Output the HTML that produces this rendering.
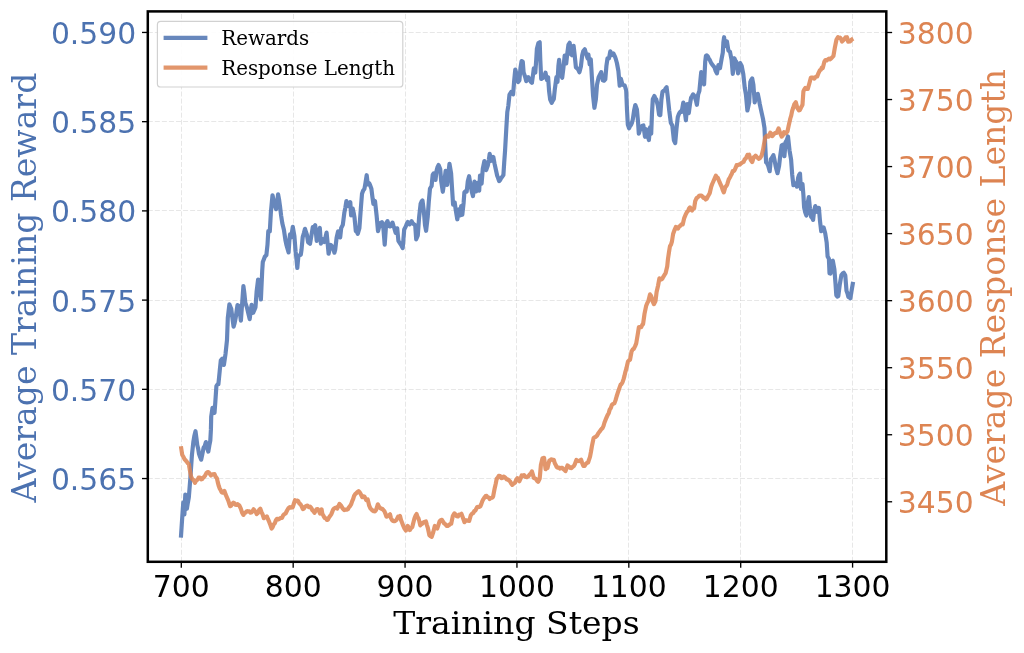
<!DOCTYPE html>
<html lang="en"><head><meta charset="utf-8"><title>Training Reward and Response Length</title>
<style>
html,body{margin:0;padding:0;background:#fff;}
body{width:1024px;height:653px;overflow:hidden;}
svg{display:block;}
.sans{font-family:"DejaVu Sans","Liberation Sans",sans-serif;}
.serif{font-family:"DejaVu Serif","Liberation Serif",serif;}
</style></head><body>
<svg width="1024" height="653" viewBox="0 0 1024 653">
<rect x="0" y="0" width="1024" height="653" fill="#ffffff"/>

<g stroke="#b0b0b0" stroke-opacity="0.3" stroke-width="1" stroke-dasharray="5 2.05" fill="none">
<line x1="181.5" y1="561.8" x2="181.5" y2="11.4"/>
<line x1="293.5" y1="561.8" x2="293.5" y2="11.4"/>
<line x1="405.5" y1="561.8" x2="405.5" y2="11.4"/>
<line x1="516.5" y1="561.8" x2="516.5" y2="11.4"/>
<line x1="628.5" y1="561.8" x2="628.5" y2="11.4"/>
<line x1="740.5" y1="561.8" x2="740.5" y2="11.4"/>
<line x1="852.5" y1="561.8" x2="852.5" y2="11.4"/>
<line x1="147.8" y1="32.5" x2="886.3" y2="32.5"/>
<line x1="147.8" y1="121.5" x2="886.3" y2="121.5"/>
<line x1="147.8" y1="210.5" x2="886.3" y2="210.5"/>
<line x1="147.8" y1="300.5" x2="886.3" y2="300.5"/>
<line x1="147.8" y1="389.5" x2="886.3" y2="389.5"/>
<line x1="147.8" y1="478.5" x2="886.3" y2="478.5"/>
</g>
<clipPath id="ax"><rect x="147.8" y="11.4" width="738.5" height="550.4"/></clipPath>
<g clip-path="url(#ax)" fill="none" stroke-width="4.17" stroke-linejoin="round" stroke-linecap="butt">
<path d="M180.9,537.7 L182.5,513.3 L183.3,502.3 L184.4,514.3 L185.3,494.5 L186.9,508.8 L187.8,503.0 L188.8,497.6 L190.3,479.0 L191.9,455.3 L193.4,441.6 L194.4,435.7 L195.5,431.2 L196.4,438.1 L197.3,445.2 L198.2,448.8 L199.0,453.8 L200.1,457.0 L201.2,459.7 L202.4,453.8 L203.6,447.7 L204.8,445.9 L205.9,442.1 L207.1,447.6 L208.3,451.6 L209.3,445.6 L210.3,440.6 L210.9,429.9 L211.2,416.8 L212.5,407.8 L213.5,410.5 L214.5,412.8 L215.3,402.4 L216.4,386.1 L217.4,384.5 L218.4,384.3 L219.7,371.1 L220.8,360.4 L222.3,358.7 L223.9,364.9 L225.5,354.0 L227.0,340.0 L227.8,318.0 L229.4,304.3 L230.3,306.8 L231.2,308.6 L232.4,317.9 L233.6,326.7 L234.6,323.1 L235.6,318.2 L236.6,311.1 L237.5,305.1 L239.0,305.8 L239.9,313.1 L240.9,320.6 L242.2,302.7 L243.4,286.1 L244.4,293.5 L245.3,302.6 L246.9,307.3 L248.3,313.2 L249.7,319.1 L250.6,311.5 L251.6,304.9 L253.1,312.8 L254.3,310.1 L255.5,307.2 L256.6,291.8 L258.1,279.6 L259.4,286.9 L260.9,299.5 L262.2,271.0 L262.8,262.0 L263.8,259.4 L264.8,256.7 L266.4,255.0 L267.5,244.6 L268.3,231.2 L269.8,231.3 L270.9,212.2 L272.5,195.3 L274.1,202.9 L275.1,205.6 L276.1,209.2 L277.1,202.4 L278.1,194.3 L279.1,199.9 L280.0,206.2 L281.1,215.5 L282.3,223.2 L283.9,229.7 L285.5,240.6 L286.5,245.2 L287.5,248.6 L288.6,252.4 L289.4,239.9 L290.0,234.4 L291.2,237.4 L292.8,226.8 L294.4,236.2 L295.6,251.4 L296.5,259.3 L297.3,268.0 L298.4,255.5 L299.6,255.2 L300.8,254.8 L301.5,249.9 L302.7,237.2 L303.9,233.1 L305.0,228.8 L305.9,231.8 L306.9,234.6 L308.1,242.3 L309.1,243.0 L310.0,243.8 L311.6,234.5 L312.8,227.1 L314.0,226.9 L315.2,225.2 L316.7,240.8 L318.3,231.4 L319.8,228.0 L320.9,243.7 L321.9,240.7 L323.0,239.2 L324.5,242.0 L325.6,236.7 L326.6,232.6 L328.1,248.2 L328.6,253.7 L329.7,248.7 L330.8,245.0 L332.0,246.2 L333.1,248.2 L334.4,252.7 L335.2,249.7 L336.6,237.7 L338.1,231.3 L339.1,233.8 L340.2,237.4 L341.2,228.0 L342.8,224.9 L344.4,212.3 L345.4,207.3 L346.4,201.1 L347.6,203.5 L348.8,206.2 L350.3,202.1 L351.1,215.4 L352.7,208.5 L353.6,212.5 L354.5,217.4 L355.8,231.1 L356.8,231.6 L357.8,233.8 L359.4,228.1 L360.9,207.6 L362.0,193.8 L363.2,190.5 L364.4,189.0 L365.5,182.8 L366.7,175.2 L367.8,184.5 L369.4,183.5 L370.4,186.1 L371.4,188.8 L372.4,196.9 L373.4,203.9 L375.0,201.0 L376.6,215.5 L378.0,231.1 L379.0,227.5 L380.0,223.0 L380.9,222.9 L381.9,222.1 L383.4,228.3 L384.7,244.6 L386.2,223.2 L387.5,221.1 L388.4,223.6 L389.4,226.3 L390.6,226.3 L391.6,224.3 L392.5,222.6 L393.4,225.7 L394.4,228.4 L395.6,232.8 L397.2,228.3 L398.4,240.9 L400.0,243.3 L401.4,245.5 L402.7,248.2 L404.2,229.5 L405.8,226.4 L406.8,223.7 L407.8,222.0 L408.8,223.8 L409.7,224.4 L410.6,222.6 L411.6,221.2 L412.6,223.2 L413.6,224.0 L415.2,225.1 L416.2,239.3 L417.8,235.4 L419.1,217.3 L420.6,203.9 L421.6,201.5 L422.5,200.5 L423.8,210.8 L425.0,225.2 L426.1,230.8 L427.7,217.1 L428.8,201.5 L430.0,188.5 L431.6,186.0 L432.7,174.8 L433.5,173.5 L434.4,173.2 L435.5,179.9 L436.6,170.5 L437.6,166.9 L438.6,165.0 L440.2,169.0 L441.2,181.3 L442.8,191.8 L444.4,181.3 L445.6,170.9 L447.2,184.9 L448.3,173.7 L449.5,163.8 L451.1,173.4 L452.2,190.8 L453.1,204.7 L454.7,202.5 L455.8,210.4 L457.3,219.3 L458.9,209.3 L460.0,215.5 L461.2,206.1 L462.3,214.8 L463.6,203.0 L464.4,192.2 L465.5,191.2 L466.7,191.6 L467.8,181.2 L469.1,176.2 L470.6,185.9 L471.8,191.7 L473.0,196.1 L474.5,181.5 L476.1,191.4 L477.7,182.8 L479.2,190.6 L480.0,175.5 L481.6,183.6 L482.8,168.6 L484.4,161.0 L485.3,166.3 L486.2,170.1 L487.8,165.6 L488.8,160.1 L489.7,153.9 L491.2,160.8 L492.3,159.0 L493.3,157.0 L494.5,163.4 L495.6,168.5 L497.2,175.8 L498.1,178.1 L499.1,181.1 L500.1,180.2 L501.1,178.1 L502.2,176.7 L503.4,175.1 L504.2,162.7 L505.0,151.6 L506.2,130.4 L507.3,112.0 L508.3,106.0 L509.5,94.5 L511.1,92.0 L512.1,93.3 L513.1,94.4 L514.2,80.5 L515.3,69.5 L516.9,75.8 L518.1,82.1 L519.4,80.2 L520.5,67.8 L521.6,61.0 L522.8,61.8 L523.6,72.3 L525.2,77.0 L526.2,81.1 L527.3,78.4 L528.3,77.1 L529.8,80.1 L530.8,81.8 L531.9,82.9 L533.0,75.0 L533.8,68.4 L535.3,72.6 L536.1,61.7 L536.9,48.8 L538.4,43.0 L539.7,42.3 L540.3,59.8 L541.2,79.0 L542.2,78.2 L543.1,78.0 L544.3,76.1 L545.5,72.7 L547.0,80.1 L548.1,77.2 L549.1,91.3 L550.2,99.7 L551.7,102.8 L552.7,100.7 L553.8,99.1 L554.8,89.4 L556.4,77.2 L557.5,81.9 L558.4,66.0 L559.1,59.9 L560.3,72.6 L561.2,75.3 L562.2,77.8 L563.4,68.1 L564.7,55.5 L566.2,63.4 L567.3,53.5 L568.4,44.9 L569.7,42.7 L570.9,54.2 L572.0,55.2 L573.6,45.8 L574.7,55.3 L575.9,67.2 L577.5,68.8 L578.5,70.1 L579.4,72.3 L580.9,66.5 L582.2,55.3 L583.3,51.1 L584.8,49.3 L586.1,53.8 L587.7,58.5 L588.4,54.5 L589.7,64.5 L590.8,59.4 L591.9,77.3 L593.1,96.1 L594.4,107.8 L595.9,99.2 L597.0,84.8 L598.6,77.4 L599.9,74.6 L601.2,72.1 L602.8,80.3 L604.0,80.7 L605.3,79.4 L606.4,66.0 L607.5,58.4 L609.0,58.3 L610.3,51.3 L611.9,55.1 L613.4,53.5 L615.0,56.7 L616.0,59.7 L616.9,63.0 L618.4,71.0 L619.7,85.7 L620.9,78.8 L622.5,84.8 L623.6,85.1 L624.7,85.5 L626.2,90.4 L627.0,110.0 L627.8,124.5 L629.1,128.3 L630.0,126.2 L630.9,125.2 L631.8,123.2 L632.8,119.5 L634.1,110.5 L635.3,105.0 L636.9,109.5 L638.0,121.4 L638.8,133.7 L640.3,129.0 L641.9,126.0 L643.4,125.5 L645.0,136.8 L646.2,129.2 L647.3,133.9 L648.9,140.1 L650.0,127.4 L651.2,133.7 L652.0,113.2 L652.8,99.2 L654.4,96.0 L655.3,98.2 L656.2,99.3 L657.8,105.4 L659.1,114.8 L660.3,115.2 L661.4,99.6 L662.5,91.7 L663.5,90.8 L664.5,90.7 L665.5,88.6 L666.6,87.2 L667.7,96.1 L669.2,110.3 L670.8,122.7 L672.3,125.5 L673.9,140.3 L675.2,143.0 L676.6,127.4 L677.8,116.9 L678.8,114.3 L679.7,112.6 L680.7,111.4 L681.7,111.8 L683.3,102.5 L684.8,111.9 L685.9,120.3 L687.2,104.0 L688.8,113.1 L690.0,103.9 L691.1,97.6 L692.1,96.1 L693.1,94.4 L694.0,95.4 L695.0,97.7 L696.0,100.8 L696.9,104.8 L698.1,94.7 L699.4,90.9 L700.5,79.1 L701.2,72.1 L702.8,73.8 L704.1,84.4 L705.2,61.8 L705.9,55.9 L706.8,55.4 L707.8,56.5 L708.8,58.6 L709.8,60.0 L711.0,62.8 L712.2,64.4 L713.4,66.0 L714.5,67.4 L715.7,71.0 L716.9,73.4 L718.4,65.0 L720.0,68.1 L721.6,58.9 L722.8,52.7 L723.4,42.2 L724.1,37.2 L725.0,46.2 L726.0,43.9 L726.9,41.4 L728.4,50.5 L730.0,51.9 L731.6,59.8 L732.8,73.9 L734.4,58.2 L735.3,60.6 L736.2,61.6 L737.2,67.7 L738.1,73.4 L739.2,68.5 L740.2,63.1 L741.7,66.0 L743.3,74.2 L744.8,88.2 L745.9,94.4 L747.4,110.5 L748.3,106.6 L749.2,102.0 L750.3,82.0 L751.2,79.9 L752.2,78.5 L753.4,84.9 L754.7,102.3 L755.7,97.8 L756.6,94.5 L757.8,93.9 L758.8,98.7 L759.7,103.7 L760.9,109.4 L762.0,114.4 L763.0,118.9 L764.5,128.2 L765.3,147.0 L766.1,162.3 L767.1,163.4 L768.1,165.5 L769.7,171.2 L770.8,159.3 L772.1,157.6 L773.4,155.2 L774.5,159.8 L775.5,165.5 L776.5,169.7 L777.5,173.2 L779.1,165.7 L780.2,156.1 L781.7,145.3 L783.3,144.5 L784.4,156.2 L785.6,142.0 L786.8,140.1 L788.0,136.5 L789.5,150.3 L791.1,159.6 L792.2,174.7 L793.4,185.2 L794.6,184.6 L795.8,183.1 L796.9,186.7 L798.1,178.0 L799.0,175.2 L800.0,173.6 L800.9,188.8 L802.5,184.0 L803.4,194.8 L804.1,207.2 L805.2,212.3 L806.4,215.6 L807.5,204.2 L808.8,197.0 L810.0,209.0 L811.1,216.7 L812.1,217.7 L813.1,219.9 L814.2,210.3 L815.3,206.1 L816.3,208.3 L817.3,211.9 L818.9,208.0 L820.0,221.1 L821.2,231.2 L822.4,229.2 L823.6,227.4 L825.2,233.2 L826.7,242.8 L827.6,256.4 L828.9,258.8 L829.5,273.2 L830.5,273.6 L831.2,261.8 L832.8,260.7 L834.4,269.4 L835.5,283.5 L836.3,295.2 L837.3,296.6 L838.3,296.1 L839.8,284.3 L841.4,275.0 L842.6,273.6 L843.8,272.8 L845.3,275.6 L846.5,290.8 L847.5,293.4 L848.4,297.1 L849.4,297.2 L850.4,298.3 L851.6,290.6 L853.1,281.8" stroke="#4c72b0" stroke-opacity="0.85"/>
<path d="M180.9,446.3 L182.2,454.8 L183.3,456.7 L184.5,459.2 L185.6,460.3 L186.7,461.6 L187.7,463.1 L188.8,464.0 L189.9,470.5 L191.1,476.8 L192.4,479.3 L193.7,480.2 L195.0,482.9 L196.2,480.4 L197.4,479.9 L198.6,477.6 L199.9,477.5 L201.2,479.4 L202.2,479.0 L203.2,477.6 L204.2,476.7 L205.2,475.4 L206.5,472.9 L207.8,472.0 L208.8,472.4 L209.9,473.9 L210.9,475.5 L212.1,474.3 L213.3,474.5 L214.5,474.1 L215.7,476.8 L216.9,478.3 L217.8,482.4 L218.8,486.1 L219.7,488.5 L220.7,490.2 L221.6,492.2 L222.5,492.7 L223.5,492.2 L224.4,491.0 L225.7,494.7 L227.0,497.7 L228.1,500.2 L229.1,503.2 L230.2,506.2 L231.2,505.6 L232.3,503.6 L233.3,502.7 L234.3,503.1 L235.4,504.8 L236.4,505.0 L237.4,504.2 L238.5,504.8 L239.5,505.8 L240.8,508.7 L242.1,512.7 L243.4,514.9 L244.5,512.9 L245.5,512.6 L246.6,511.3 L247.9,511.2 L249.2,511.4 L250.5,512.6 L251.5,512.5 L252.6,511.0 L253.6,509.3 L254.6,510.6 L255.7,511.9 L256.7,514.0 L257.9,512.9 L259.1,510.0 L260.3,508.8 L261.4,511.8 L262.6,514.4 L263.8,518.2 L264.8,517.0 L265.8,517.4 L266.9,516.4 L268.1,519.4 L269.2,521.9 L270.4,525.0 L271.6,528.6 L272.7,527.0 L273.8,524.2 L274.8,523.3 L275.9,520.3 L277.0,518.8 L278.3,519.3 L279.6,518.6 L280.9,517.9 L282.1,517.8 L283.2,515.2 L284.4,514.1 L285.6,513.5 L286.7,511.3 L287.7,509.4 L288.8,507.8 L289.7,507.1 L290.7,507.7 L291.7,506.9 L292.7,507.3 L293.9,503.5 L295.0,500.2 L296.0,501.2 L297.1,500.6 L298.1,500.9 L299.3,503.5 L300.5,504.3 L301.6,506.2 L302.8,509.0 L304.0,508.5 L305.1,506.7 L306.3,505.8 L307.5,505.7 L308.8,507.2 L310.1,506.7 L311.4,508.2 L312.4,510.2 L313.5,511.3 L314.5,512.7 L315.6,510.7 L316.6,509.3 L317.7,509.0 L318.9,510.6 L320.0,513.5 L321.6,509.4 L322.3,513.6 L323.5,515.9 L324.7,518.0 L325.7,518.2 L326.8,519.8 L327.8,519.8 L329.0,517.4 L330.2,515.8 L331.4,514.1 L332.5,511.2 L333.4,509.2 L334.4,508.2 L335.3,507.7 L336.3,507.6 L337.2,508.6 L338.4,506.3 L339.5,503.9 L340.7,505.1 L341.9,507.1 L343.0,508.9 L344.2,510.1 L345.5,509.7 L346.9,509.7 L347.9,509.2 L348.9,507.3 L350.1,506.0 L351.2,504.1 L352.2,501.1 L353.1,499.1 L354.1,495.8 L355.2,494.1 L356.4,493.1 L357.5,491.9 L358.6,491.1 L359.8,492.4 L361.0,494.6 L362.2,497.1 L363.4,496.3 L364.5,496.5 L366.1,500.0 L367.7,499.4 L369.2,505.7 L370.4,508.3 L371.6,509.6 L372.8,510.7 L373.9,511.3 L374.9,511.4 L375.9,510.2 L376.9,507.5 L377.8,504.3 L379.0,506.7 L380.2,508.0 L381.4,508.9 L382.5,508.9 L383.4,510.1 L384.4,511.2 L385.4,513.6 L386.4,516.6 L387.4,516.4 L388.4,515.6 L390.0,514.3 L390.9,517.8 L391.9,519.9 L393.0,520.9 L394.2,521.2 L395.4,520.9 L396.6,519.7 L398.1,516.6 L399.1,517.0 L400.0,516.0 L401.0,520.0 L402.0,522.5 L403.2,525.7 L404.4,528.3 L405.9,530.5 L406.9,528.6 L407.8,525.9 L408.8,528.1 L409.8,530.0 L411.0,528.2 L412.2,527.2 L413.4,522.4 L414.5,518.2 L415.6,515.6 L416.6,514.0 L417.5,516.9 L418.4,518.2 L419.4,521.5 L420.3,525.4 L421.2,524.1 L422.2,523.9 L423.1,522.6 L424.5,521.9 L425.9,521.4 L426.9,525.1 L427.8,527.7 L429.4,535.2 L430.5,536.2 L431.7,536.8 L433.3,532.0 L434.8,525.9 L436.0,527.7 L437.2,528.5 L438.4,525.1 L439.5,521.5 L440.7,520.2 L441.9,519.8 L443.0,521.7 L444.2,523.5 L445.4,524.2 L446.6,525.9 L447.8,525.8 L448.9,525.2 L450.1,524.1 L451.2,523.8 L452.8,516.1 L454.4,513.4 L455.5,514.3 L456.7,516.3 L457.9,516.5 L459.1,514.7 L460.2,514.7 L461.4,513.8 L463.0,518.0 L464.5,522.2 L465.7,520.4 L466.9,520.3 L468.0,520.8 L469.2,521.0 L470.8,515.2 L472.0,513.7 L473.1,513.2 L474.3,511.1 L475.5,510.4 L476.4,508.5 L477.2,507.0 L478.2,506.9 L479.3,506.9 L480.3,506.4 L481.3,504.1 L482.4,500.9 L483.4,499.1 L484.5,497.5 L485.5,496.1 L486.6,495.9 L487.6,497.3 L488.7,497.5 L489.7,499.0 L490.8,498.0 L492.0,497.8 L493.1,496.7 L494.7,488.2 L495.7,483.9 L496.7,478.7 L497.7,477.7 L498.8,475.8 L500.1,476.1 L501.4,478.2 L502.4,478.0 L503.5,476.6 L504.5,476.9 L505.6,478.0 L506.6,479.4 L507.7,479.4 L508.9,480.4 L510.0,481.3 L511.1,483.4 L512.3,484.9 L513.6,483.6 L515.0,482.8 L516.2,479.8 L517.5,478.1 L518.5,480.1 L519.4,481.2 L520.5,478.7 L521.7,475.4 L522.9,475.9 L524.1,475.1 L525.5,476.8 L526.9,477.2 L528.2,476.5 L529.5,474.7 L530.7,473.7 L531.9,471.4 L532.8,474.4 L533.8,477.8 L534.8,478.3 L535.8,478.8 L537.0,480.8 L538.1,481.9 L539.7,478.5 L540.9,464.9 L542.5,458.2 L544.1,457.9 L545.6,469.2 L546.5,468.3 L547.5,468.0 L548.5,463.7 L549.4,460.6 L550.4,460.0 L551.4,459.3 L552.6,460.0 L553.8,459.8 L554.7,463.0 L555.6,464.7 L556.7,467.0 L557.7,467.6 L558.9,467.7 L560.0,468.6 L561.1,467.8 L562.3,467.9 L563.4,469.1 L564.4,469.9 L565.5,471.1 L566.5,468.3 L567.5,465.4 L568.9,466.4 L570.2,468.0 L571.5,468.1 L572.8,466.8 L573.8,466.1 L574.8,464.2 L576.4,460.0 L577.6,460.8 L578.8,461.1 L579.9,460.5 L581.1,459.7 L582.2,463.2 L583.4,466.0 L584.6,465.9 L585.8,463.9 L587.0,462.9 L588.1,462.5 L589.0,459.7 L590.0,456.9 L591.0,451.7 L592.0,445.7 L593.6,438.1 L594.6,437.2 L595.6,436.9 L597.0,435.7 L598.3,433.3 L599.5,431.8 L600.6,430.1 L601.5,429.0 L602.5,428.2 L603.5,426.0 L604.5,422.5 L605.7,419.4 L606.9,416.7 L607.8,414.7 L608.8,412.9 L609.7,409.6 L610.8,408.0 L611.9,404.9 L613.1,403.9 L614.4,403.4 L615.5,400.4 L616.6,396.5 L617.9,392.4 L619.1,388.8 L620.6,384.6 L621.5,384.1 L622.5,382.3 L623.5,379.4 L624.4,376.1 L625.4,371.8 L626.4,368.4 L628.0,361.4 L629.0,360.4 L630.0,359.8 L631.6,351.3 L632.7,349.5 L633.8,348.7 L635.0,346.4 L636.2,343.5 L637.8,334.0 L638.9,327.2 L640.1,327.2 L641.2,327.2 L642.2,325.0 L643.1,324.0 L644.5,313.9 L646.1,306.1 L647.2,303.3 L648.4,301.1 L650.0,294.4 L651.0,295.7 L651.9,298.4 L652.9,301.9 L653.9,304.2 L655.5,301.1 L656.6,292.0 L658.1,285.5 L659.4,278.4 L660.3,279.6 L661.2,279.4 L662.3,278.7 L663.3,276.8 L664.5,274.9 L665.6,273.2 L667.2,266.6 L668.0,258.8 L669.1,251.4 L670.0,246.0 L671.0,244.7 L671.9,241.7 L673.1,234.0 L674.7,229.5 L675.8,227.0 L677.0,228.2 L678.1,228.6 L679.2,226.6 L680.4,225.8 L681.5,224.4 L682.7,224.4 L684.2,218.1 L685.8,214.2 L687.0,212.0 L688.1,210.9 L689.0,208.6 L690.0,207.4 L691.0,209.6 L692.0,210.5 L693.0,208.8 L694.1,208.5 L695.2,201.1 L696.7,197.8 L697.9,197.3 L699.1,195.8 L700.2,195.6 L701.4,195.5 L702.4,196.5 L703.4,197.9 L704.5,197.7 L705.6,199.5 L706.7,198.8 L707.7,196.8 L708.7,195.0 L709.7,193.2 L711.2,186.8 L712.2,184.0 L713.1,182.0 L714.7,178.3 L715.9,175.6 L716.8,177.4 L717.8,177.7 L718.8,180.2 L719.7,182.4 L720.7,184.8 L721.7,186.8 L722.7,189.8 L723.8,192.3 L725.3,187.2 L726.2,186.2 L727.2,184.4 L728.8,179.2 L729.7,177.9 L730.6,176.1 L731.7,174.1 L732.7,171.2 L733.7,171.2 L734.7,169.9 L735.7,167.7 L736.6,165.1 L737.8,165.3 L738.9,164.6 L740.1,164.4 L741.2,163.2 L742.4,162.4 L743.6,161.9 L744.6,159.5 L745.6,158.7 L746.5,157.0 L747.5,154.9 L749.1,154.7 L750.6,159.7 L752.2,162.0 L753.8,157.1 L754.7,156.7 L755.6,155.6 L756.7,156.9 L757.7,157.9 L758.9,158.9 L760.0,158.1 L761.6,155.7 L763.1,149.5 L764.4,141.9 L765.3,137.2 L766.9,135.7 L767.8,136.6 L768.8,136.6 L770.3,132.7 L771.3,133.7 L772.3,136.1 L773.5,134.7 L774.7,133.4 L775.7,132.8 L776.6,133.0 L777.6,130.7 L778.6,128.4 L780.2,133.1 L781.7,136.7 L782.9,135.2 L784.1,132.1 L785.0,133.3 L785.9,133.4 L787.5,131.3 L788.8,125.1 L790.3,118.5 L791.2,115.6 L792.2,110.7 L793.2,107.8 L794.2,104.5 L795.8,102.3 L797.3,107.9 L798.9,110.4 L799.9,110.0 L800.9,107.8 L802.5,104.7 L803.4,91.3 L804.3,89.4 L805.3,88.0 L806.5,88.8 L807.8,88.9 L809.4,83.3 L810.9,77.6 L812.1,77.6 L813.2,77.5 L814.4,78.6 L815.3,77.2 L816.3,76.6 L817.2,76.5 L818.5,73.1 L819.8,70.4 L820.8,69.8 L821.8,67.7 L822.8,68.0 L824.4,61.6 L825.5,60.0 L826.7,60.4 L827.9,59.3 L829.1,58.7 L830.2,59.3 L831.4,58.2 L832.4,57.1 L833.4,56.1 L834.9,47.4 L836.5,39.5 L838.0,37.1 L839.0,37.8 L840.0,37.7 L841.0,38.9 L842.0,41.6 L843.0,40.6 L843.9,39.7 L845.5,37.4 L847.0,37.2 L848.2,41.7 L849.8,41.5 L850.8,40.8 L851.7,39.5 L853.3,38.6" stroke="#dd8452" stroke-opacity="0.85"/>
</g>
<g stroke="#000" stroke-width="1.33">
<line x1="181.30" y1="561.8" x2="181.30" y2="567.63"/>
<line x1="293.18" y1="561.8" x2="293.18" y2="567.63"/>
<line x1="405.06" y1="561.8" x2="405.06" y2="567.63"/>
<line x1="516.94" y1="561.8" x2="516.94" y2="567.63"/>
<line x1="628.82" y1="561.8" x2="628.82" y2="567.63"/>
<line x1="740.70" y1="561.8" x2="740.70" y2="567.63"/>
<line x1="852.58" y1="561.8" x2="852.58" y2="567.63"/>
<line x1="147.8" y1="32.45" x2="141.97" y2="32.45"/>
<line x1="147.8" y1="121.67" x2="141.97" y2="121.67"/>
<line x1="147.8" y1="210.89" x2="141.97" y2="210.89"/>
<line x1="147.8" y1="300.11" x2="141.97" y2="300.11"/>
<line x1="147.8" y1="389.33" x2="141.97" y2="389.33"/>
<line x1="147.8" y1="478.55" x2="141.97" y2="478.55"/>
<line x1="886.3" y1="32.50" x2="892.13" y2="32.50"/>
<line x1="886.3" y1="99.54" x2="892.13" y2="99.54"/>
<line x1="886.3" y1="166.58" x2="892.13" y2="166.58"/>
<line x1="886.3" y1="233.62" x2="892.13" y2="233.62"/>
<line x1="886.3" y1="300.66" x2="892.13" y2="300.66"/>
<line x1="886.3" y1="367.70" x2="892.13" y2="367.70"/>
<line x1="886.3" y1="434.74" x2="892.13" y2="434.74"/>
<line x1="886.3" y1="501.78" x2="892.13" y2="501.78"/>
</g>
<rect x="147.8" y="11.4" width="738.50" height="550.40" fill="none" stroke="#000" stroke-width="2.5" stroke-linejoin="miter"/>
<g class="sans" font-size="29.8" fill="#000" text-anchor="middle">
<text x="181.30" y="597.4">700</text>
<text x="293.18" y="597.4">800</text>
<text x="405.06" y="597.4">900</text>
<text x="516.94" y="597.4">1000</text>
<text x="628.82" y="597.4">1100</text>
<text x="740.70" y="597.4">1200</text>
<text x="852.58" y="597.4">1300</text>
</g>
<g class="sans" font-size="29.8" fill="#4c72b0" text-anchor="end">
<text x="136.2" y="43.85">0.590</text>
<text x="136.2" y="133.07">0.585</text>
<text x="136.2" y="222.29">0.580</text>
<text x="136.2" y="311.51">0.575</text>
<text x="136.2" y="400.73">0.570</text>
<text x="136.2" y="489.95">0.565</text>
</g>
<g class="sans" font-size="29.8" fill="#dd8452" text-anchor="start">
<text x="897.8" y="43.90">3800</text>
<text x="897.8" y="110.94">3750</text>
<text x="897.8" y="177.98">3700</text>
<text x="897.8" y="245.02">3650</text>
<text x="897.8" y="312.06">3600</text>
<text x="897.8" y="379.10">3550</text>
<text x="897.8" y="446.14">3500</text>
<text x="897.8" y="513.18">3450</text>
</g>
<text class="serif" font-size="33.05" fill="#000" text-anchor="middle" transform="translate(516.4,634.1) scale(1,0.97)">Training Steps</text>
<text class="serif" font-size="33.05" fill="#4c72b0" text-anchor="middle" transform="translate(36.3,287.6) rotate(-90)">Average Training Reward</text>
<text class="serif" font-size="33.05" fill="#dd8452" text-anchor="middle" transform="translate(1004.7,287.4) rotate(-90)">Average Response Length</text>
<rect x="157.4" y="21.4" width="245.4" height="65.6" rx="3.3" ry="3.3" fill="#fff" fill-opacity="0.92" stroke="#ccc" stroke-opacity="0.9" stroke-width="1.2"/>
<line x1="163.6" y1="37.8" x2="207.4" y2="37.8" stroke="#4c72b0" stroke-opacity="0.85" stroke-width="4.17"/>
<line x1="163.6" y1="67.7" x2="207.4" y2="67.7" stroke="#dd8452" stroke-opacity="0.85" stroke-width="4.17"/>
<g class="serif" font-size="19.87" fill="#000">
<text x="221.2" y="45.4">Rewards</text>
<text x="221.2" y="74.7">Response Length</text>
</g>
</svg>
</body></html>
